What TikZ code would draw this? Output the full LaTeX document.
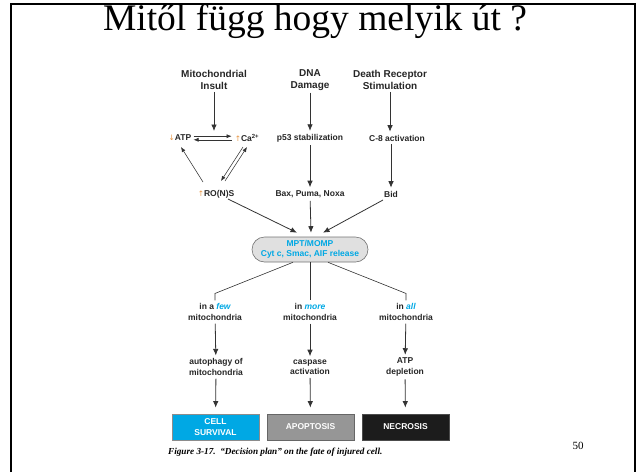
\documentclass[tikz,border=0pt]{standalone}
\usepackage{fontspec}
\setmainfont{Liberation Serif}
\newfontfamily\arialfont{Liberation Sans}
\newfontfamily\arrowfont{DejaVu Sans}
\usetikzlibrary{arrows.meta,positioning,calc}
\definecolor{figcyan}{RGB}{0,168,228}
\definecolor{figorange}{RGB}{230,150,70}
\definecolor{ovalgray}{RGB}{224,224,224}
\definecolor{apogray}{RGB}{150,150,150}
\definecolor{necblack}{RGB}{28,28,28}
\newcommand{\upmark}{{\color{figorange}\arrowfont\mdseries\fontsize{7.5}{9}\selectfont ↑}}
\newcommand{\downmark}{{\color{figorange}\arrowfont\mdseries\fontsize{7.5}{9}\selectfont ↓}}
\tikzset{
  head/.style={font=\arialfont\bfseries\fontsize{10}{12}\selectfont,align=center,inner sep=2pt,text=black!85},
  lbl/.style={font=\arialfont\bfseries\fontsize{8.5}{10.5}\selectfont,align=center,inner sep=3pt,text=black!85},
  arr/.style={-{Latex[length=6.5pt,width=5.5pt]},line width=0.8pt,draw=black!80},
  thinarr/.style={-{Latex[length=5pt,width=4pt]},line width=0.55pt,draw=black!80},
  fate/.style={lbl,minimum width=87pt,minimum height=26pt,text=white,line width=0.8pt}
}

\begin{document}
\begin{tikzpicture}[x=1pt,y=-1pt]
  \useasboundingbox (0,0) rectangle (639,472);
  % slide frame and title
  \draw[line width=2pt] (11,472) -- (11,4) -- (635,4) -- (635,472);
  \node[anchor=base,inner sep=0pt,font=\fontsize{37.5}{42}\selectfont] (title) at (315,30) {Mitől függ hogy melyik út ?};

  % top row
  \node[head] (mito) at (214,80) {Mitochondrial\\Insult};
  \node[head] (dna) at (310,80) {DNA\\Damage};
  \node[head] (dr) at (390,80) {Death Receptor\\Stimulation};

  \node[lbl,inner sep=2pt] (atp) at (180,138) {\downmark ATP};
  \node[lbl,inner sep=2pt] (ca) at (247,138) {\upmark Ca\textsuperscript{2+}};
  \node[lbl] (p53) at (310,138) {p53 stabilization};
  \node[lbl] (c8) at (397,138) {C-8 activation};

  \node[lbl] (ros) at (216,194) {\upmark RO(N)S};
  \node[lbl] (bax) at (310,194) {Bax, Puma, Noxa};
  \node[lbl] (bid) at (391,194) {Bid};

  \coordinate (hub) at (214,131);
  \draw[arr] (mito) -- (hub);
  \draw[arr] (dna) -- (p53);
  \draw[arr] (dr.south) -- (dr.south |- c8.north);
  \draw[arr] (p53) -- (bax);
  \draw[arr] (bid.north |- c8.south) -- (bid);

  % ATP / Ca / RO(N)S loop
  \draw[thinarr] ($(atp.east)+(0,-1.8)$) -- ($(ca.west)+(-1,-1.8)$);
  \draw[thinarr] ($(ca.west)+(-1,1.8)$) -- ($(atp.east)+(0,1.8)$);
  \draw[thinarr] ($(ros)+(9,-13)$) -- ($(ca)+(0,9)$);
  \draw[thinarr] ($(ca)+(-4,9)$) -- ($(ros)+(5,-13)$);
  \draw[thinarr] ($(ros)+(-13,-12)$) -- ($(atp)+(1,9)$);

  % MPT/MOMP
  \node[lbl,text=figcyan,fill=ovalgray,draw=black!55,line width=0.6pt,
        rounded corners=12.5pt,minimum width=116pt,minimum height=25pt,inner sep=1pt] (mpt) at (310,249.5)
        {MPT/MOMP\\Cyt c, Smac, AIF release};
  \draw[arr] ($(ros)+(12,5)$) -- ($(mpt.north)+(-13,-4)$);
  \draw[arr] (bax) -- ($(mpt.north)+(1,-4)$);
  \draw[arr] ($(bid)+(-8,6)$) -- ($(mpt.north)+(13,-4)$);

  % how many mitochondria
  \node[lbl] (few) at (215,312) {in a \textcolor{figcyan}{\itshape few}\\mitochondria};
  \node[lbl] (more) at (310,312) {in \textcolor{figcyan}{\itshape more}\\mitochondria};
  \node[lbl] (all) at (406,312) {in \textcolor{figcyan}{\itshape all}\\mitochondria};
  \draw[line width=0.6pt,draw=black!80] ($(mpt.south)+(-17,0)$) -- ($(few.north)+(0,-7)$) -- (few.north);
  \draw[line width=0.6pt,draw=black!80] (mpt.south) -- (more.north);
  \draw[line width=0.6pt,draw=black!80] ($(mpt.south)+(18,0)$) -- ($(all.north)+(0,-7)$) -- (all.north);

  \node[lbl] (auto) at (216,367) {autophagy of\\mitochondria};
  \node[lbl] (casp) at (310,367) {caspase\\activation};
  \node[lbl] (atpd) at (405,367) {ATP\\depletion};
  \draw[arr] (few) -- (auto);
  \draw[arr] (more) -- (casp);
  \draw[arr] (all) -- (atpd);

  % outcomes
  \node[fate,fill=figcyan,draw=black!45] (surv) at (215.5,427) {CELL\\SURVIVAL};
  \node[fate,fill=apogray,draw=black!60] (apop) at (310.5,427) {APOPTOSIS};
  \node[fate,fill=necblack,draw=black!70] (necr) at (405.5,427) {NECROSIS};
  \draw[arr,shorten >=6pt] (auto) -- (surv);
  \draw[arr,shorten >=6pt] (casp) -- (apop);
  \draw[arr,shorten >=6pt] (atpd) -- (necr);

  \node[anchor=base west,inner sep=0pt,font=\bfseries\itshape\fontsize{9.2}{11}\selectfont] (caption) at (168,454)
    {Figure 3-17.\ \ “Decision plan” on the fate of injured cell.};
  \node[anchor=base,inner sep=0pt,font=\fontsize{11}{13}\selectfont] (pagenum) at (578,449) {50};
\end{tikzpicture}
\end{document}
